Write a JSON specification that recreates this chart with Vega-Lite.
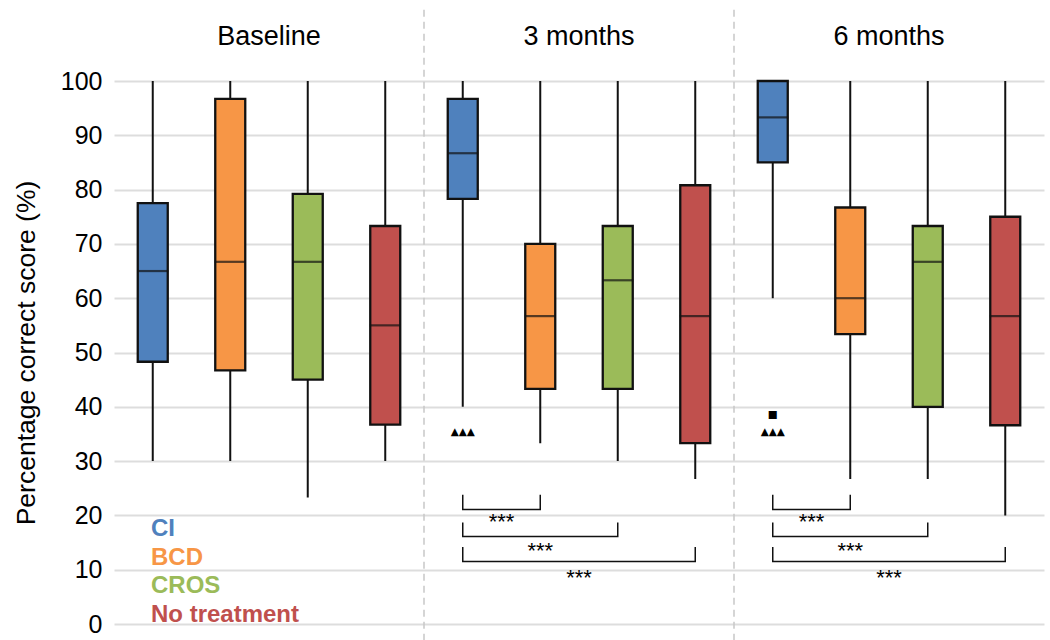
{
  "$schema": "https://vega.github.io/schema/vega-lite/v6.json",
  "autosize": {"type": "none"},
  "width": 930,
  "height": 543,
  "padding": {"left": 114, "top": 81, "right": 6, "bottom": 16},
  "background": "white",
  "config": {"view": {"stroke": null}, "font": "Liberation Sans", "text": {"font": "Liberation Sans"}},
  "datasets": {
    "boxes": [
      {"time": "Baseline", "group": "CI", "min": 30, "q1": 48.3, "median": 65, "q3": 77.5, "max": 100},
      {"time": "Baseline", "group": "BCD", "min": 30, "q1": 46.7, "median": 66.7, "q3": 96.7, "max": 100},
      {"time": "Baseline", "group": "CROS", "min": 23.3, "q1": 45, "median": 66.7, "q3": 79.2, "max": 100},
      {"time": "Baseline", "group": "No treatment", "min": 30, "q1": 36.7, "median": 55, "q3": 73.3, "max": 100},
      {"time": "3 months", "group": "CI", "min": 40, "q1": 78.3, "median": 86.7, "q3": 96.7, "max": 100},
      {"time": "3 months", "group": "BCD", "min": 33.3, "q1": 43.3, "median": 56.7, "q3": 70, "max": 100},
      {"time": "3 months", "group": "CROS", "min": 30, "q1": 43.3, "median": 63.3, "q3": 73.3, "max": 100},
      {"time": "3 months", "group": "No treatment", "min": 26.7, "q1": 33.3, "median": 56.7, "q3": 80.8, "max": 100},
      {"time": "6 months", "group": "CI", "min": 60, "q1": 85, "median": 93.3, "q3": 100, "max": 100},
      {"time": "6 months", "group": "BCD", "min": 26.7, "q1": 53.4, "median": 60, "q3": 76.7, "max": 100},
      {"time": "6 months", "group": "CROS", "min": 26.7, "q1": 40, "median": 66.7, "q3": 73.3, "max": 100},
      {"time": "6 months", "group": "No treatment", "min": 20, "q1": 36.6, "median": 56.7, "q3": 75, "max": 100}
    ],
    "outliers": [
      {"time": "3 months", "group": "CI", "value": 35.3, "symbol": "▲▲▲"},
      {"time": "6 months", "group": "CI", "value": 35.3, "symbol": "▲▲▲"},
      {"time": "6 months", "group": "CI", "value": 38.4, "symbol": "■"}
    ],
    "brackets": [
      {"time": "3 months", "pair": 1, "k": 1, "group": "CI", "y": 23.8},
      {"time": "3 months", "pair": 1, "k": 2, "group": "CI", "y": 21.1},
      {"time": "3 months", "pair": 1, "k": 3, "group": "BCD", "y": 21.1},
      {"time": "3 months", "pair": 1, "k": 4, "group": "BCD", "y": 23.8},
      {"time": "3 months", "pair": 2, "k": 1, "group": "CI", "y": 18.7},
      {"time": "3 months", "pair": 2, "k": 2, "group": "CI", "y": 16.1},
      {"time": "3 months", "pair": 2, "k": 3, "group": "CROS", "y": 16.1},
      {"time": "3 months", "pair": 2, "k": 4, "group": "CROS", "y": 18.7},
      {"time": "3 months", "pair": 3, "k": 1, "group": "CI", "y": 14.2},
      {"time": "3 months", "pair": 3, "k": 2, "group": "CI", "y": 11.5},
      {"time": "3 months", "pair": 3, "k": 3, "group": "No treatment", "y": 11.5},
      {"time": "3 months", "pair": 3, "k": 4, "group": "No treatment", "y": 14.2},
      {"time": "6 months", "pair": 1, "k": 1, "group": "CI", "y": 23.8},
      {"time": "6 months", "pair": 1, "k": 2, "group": "CI", "y": 21.1},
      {"time": "6 months", "pair": 1, "k": 3, "group": "BCD", "y": 21.1},
      {"time": "6 months", "pair": 1, "k": 4, "group": "BCD", "y": 23.8},
      {"time": "6 months", "pair": 2, "k": 1, "group": "CI", "y": 18.7},
      {"time": "6 months", "pair": 2, "k": 2, "group": "CI", "y": 16.1},
      {"time": "6 months", "pair": 2, "k": 3, "group": "CROS", "y": 16.1},
      {"time": "6 months", "pair": 2, "k": 4, "group": "CROS", "y": 18.7},
      {"time": "6 months", "pair": 3, "k": 1, "group": "CI", "y": 14.2},
      {"time": "6 months", "pair": 3, "k": 2, "group": "CI", "y": 11.5},
      {"time": "6 months", "pair": 3, "k": 3, "group": "No treatment", "y": 11.5},
      {"time": "6 months", "pair": 3, "k": 4, "group": "No treatment", "y": 14.2}
    ],
    "stars": [
      {"time": "3 months", "pair": 1, "at": "CI", "y": 18.8, "label": "***"},
      {"time": "3 months", "pair": 2, "at": "BCD", "y": 13.4, "label": "***"},
      {"time": "3 months", "pair": 3, "at": "BCD", "y": 8.4, "label": "***"},
      {"time": "6 months", "pair": 1, "at": "CI", "y": 18.8, "label": "***"},
      {"time": "6 months", "pair": 2, "at": "BCD", "y": 13.4, "label": "***"},
      {"time": "6 months", "pair": 3, "at": "BCD", "y": 8.4, "label": "***"}
    ],
    "separators": [{"time": "3 months"}, {"time": "6 months"}]
  },
  "layer": [
    {
      "data": {"name": "separators"},
      "mark": {"type": "rule", "stroke": "#c8c8c8", "strokeWidth": 1.5, "strokeDash": [7, 5]},
      "encoding": {
        "x": {"field": "time", "type": "nominal", "bandPosition": 0,
              "scale": {"domain": ["Baseline", "3 months", "6 months"], "paddingInner": 0, "paddingOuter": 0},
              "axis": {"orient": "top", "title": null, "domain": false, "ticks": false, "labelAngle": 0,
                       "labelFontSize": 27, "labelColor": "#000", "labelBaseline": "alphabetic", "labelPadding": 37, "grid": false}},
        "y": {"datum": 113.1, "type": "quantitative",
              "scale": {"domain": [0, 100], "nice": false, "zero": true},
              "axis": {"values": [0, 10, 20, 30, 40, 50, 60, 70, 80, 90, 100], "domain": false, "ticks": false, "tickSize": 0,
                       "grid": true, "gridColor": "#dddddd", "gridWidth": 2,
                       "labelFontSize": 25, "labelColor": "#000", "labelPadding": 12,
                       "title": "Percentage correct score (%)", "titleFontSize": 26.5, "titleFontWeight": "normal",
                       "titleColor": "#000", "titlePadding": 20}},
        "y2": {"datum": -3}
      }
    },
    {
      "data": {"name": "boxes"},
      "mark": {"type": "rule", "stroke": "#111111", "strokeWidth": 2},
      "encoding": {
        "x": {"field": "time", "type": "nominal"},
        "xOffset": {"field": "group", "type": "nominal", "scale": {"type": "band", "domain": ["CI", "BCD", "CROS", "No treatment"], "paddingInner": 0, "paddingOuter": 0}},
        "y": {"field": "min", "type": "quantitative"},
        "y2": {"field": "max"}
      }
    },
    {
      "data": {"name": "boxes"},
      "mark": {"type": "bar", "width": 30, "stroke": "#111111", "strokeWidth": 2.3},
      "encoding": {
        "x": {"field": "time", "type": "nominal"},
        "xOffset": {"field": "group", "type": "nominal"},
        "y": {"field": "q1", "type": "quantitative"},
        "y2": {"field": "q3"},
        "color": {"field": "group", "type": "nominal",
                  "scale": {"domain": ["CI", "BCD", "CROS", "No treatment"], "range": ["#4F81BD", "#F79646", "#9BBB59", "#C0504D"]},
                  "legend": {"title": null, "orient": "none", "legendX": 13, "legendY": 436,
                             "symbolSize": 0, "symbolStrokeWidth": 0, "symbolOpacity": 0, "labelOffset": 0,
                             "labelFontSize": 24, "labelFontWeight": "bold", "rowPadding": 4.5,
                             "labelColor": {"expr": "scale('color', datum.value)"}}}
      }
    },
    {
      "data": {"name": "boxes"},
      "mark": {"type": "tick", "color": "#111111", "size": 31, "thickness": 2.2},
      "encoding": {
        "x": {"field": "time", "type": "nominal"},
        "xOffset": {"field": "group", "type": "nominal"},
        "y": {"field": "median", "type": "quantitative"}
      }
    },
    {
      "data": {"name": "outliers"},
      "mark": {"type": "text", "font": "DejaVu Sans", "fontSize": 10.5, "color": "#000", "baseline": "middle"},
      "encoding": {
        "x": {"field": "time", "type": "nominal"},
        "xOffset": {"field": "group", "type": "nominal"},
        "y": {"field": "value", "type": "quantitative"},
        "text": {"field": "symbol"}
      }
    },
    {
      "data": {"name": "brackets"},
      "mark": {"type": "line", "stroke": "#111111", "strokeWidth": 1.5},
      "encoding": {
        "x": {"field": "time", "type": "nominal"},
        "xOffset": {"field": "group", "type": "nominal"},
        "y": {"field": "y", "type": "quantitative"},
        "detail": [{"field": "time"}, {"field": "pair"}],
        "order": {"field": "k", "type": "quantitative"}
      }
    },
    {
      "data": {"name": "stars"},
      "transform": [{"filter": "datum.pair != 2"}],
      "mark": {"type": "text", "fontSize": 22, "color": "#000", "baseline": "middle", "dx": {"expr": "bandwidth('xOffset') / 2"}},
      "encoding": {
        "x": {"field": "time", "type": "nominal"},
        "xOffset": {"field": "at", "type": "nominal"},
        "y": {"field": "y", "type": "quantitative"},
        "text": {"field": "label"}
      }
    },
    {
      "data": {"name": "stars"},
      "transform": [{"filter": "datum.pair == 2"}],
      "mark": {"type": "text", "fontSize": 22, "color": "#000", "baseline": "middle"},
      "encoding": {
        "x": {"field": "time", "type": "nominal"},
        "xOffset": {"field": "at", "type": "nominal"},
        "y": {"field": "y", "type": "quantitative"},
        "text": {"field": "label"}
      }
    }
  ]
}
